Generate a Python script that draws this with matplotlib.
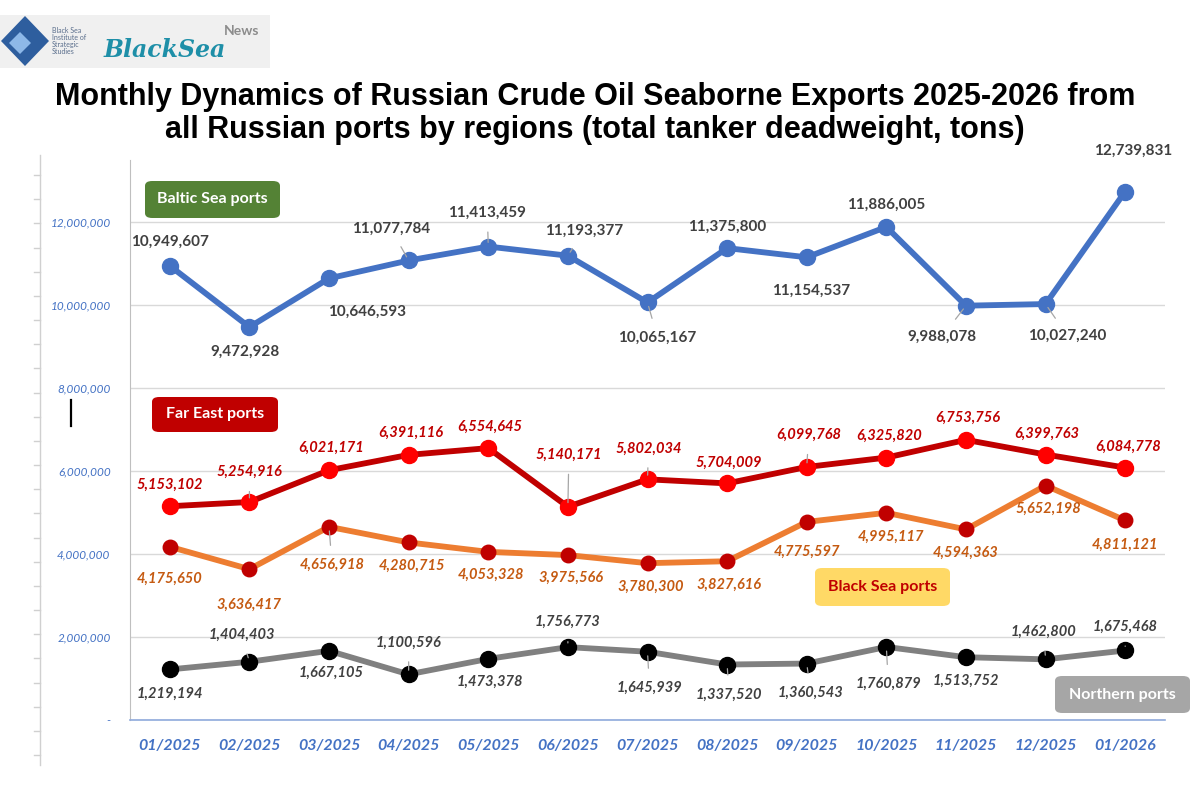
import numpy as np
import matplotlib
matplotlib.use("Agg")
import matplotlib.pyplot as plt
from matplotlib.patches import FancyBboxPatch, Rectangle, Polygon
from matplotlib.lines import Line2D
from matplotlib.ticker import FuncFormatter, MultipleLocator

months = ["01/2025", "02/2025", "03/2025", "04/2025", "05/2025", "06/2025", "07/2025",
          "08/2025", "09/2025", "10/2025", "11/2025", "12/2025", "01/2026"]

baltic = [10949607, 9472928, 10646593, 11077784, 11413459, 11193377, 10065167,
          11375800, 11154537, 11886005, 9988078, 10027240, 12739831]
far_east = [5153102, 5254916, 6021171, 6391116, 6554645, 5140171, 5802034,
            5704009, 6099768, 6325820, 6753756, 6399763, 6084778]
black_sea = [4175650, 3636417, 4656918, 4280715, 4053328, 3975566, 3780300,
             3827616, 4775597, 4995117, 4594363, 5652198, 4811121]
northern = [1219194, 1404403, 1667105, 1100596, 1473378, 1756773, 1645939,
            1337520, 1360543, 1760879, 1513752, 1462800, 1675468]

# label offsets in pixels (dx, dy) and which labels get a leader line
baltic_off = [(0, 24), (-4, -25), (38, -33), (-18, 32), (-1, 34), (16, 25), (10, -35),
              (0, 21), (4, -34), (0, 22), (-24, -31), (22, -32), (8, 41)]
baltic_lead = [3, 4, 5, 6, 10, 11]
fe_off = [(0, 21), (0, 30), (2, 22), (2, 22), (1, 21), (1, 52), (1, 31),
          (2, 21), (2, 32), (3, 22), (2, 22), (1, 21), (3, 21)]
fe_lead = [1, 5, 6, 8]
bs_off = [(0, -32), (0, -36), (3, -38), (3, -23), (3, -23), (3, -23), (3, -24),
          (2, -24), (0, -30), (5, -24), (0, -23), (3, -23), (0, -24)]
bs_lead = [2]
no_off = [(0, -24), (-8, 27), (2, -22), (0, 32), (2, -23), (0, 25), (2, -36),
          (2, -30), (4, -29), (2, -37), (0, -24), (-2, 28), (0, 24)]
no_lead = [1, 3, 5, 6, 7, 8, 9, 11, 12]

FONT = ["Lato", "DejaVu Sans"]
W, H = 1200, 800


def fx(px):
    return px / W


def fy(py):
    return 1 - py / H


fig = plt.figure(figsize=(12, 8), dpi=100)
fig.patch.set_facecolor("white")
ax = fig.add_axes([fx(130), fy(720), 1035 / W, 560 / H])

x = np.arange(len(months))
series = [
    (baltic, "#4472C4", "#4472C4", 16, "#404040", "normal", 11, baltic_off, baltic_lead),
    (far_east, "#C00000", "#FF0000", 16, "#C00000", "italic", 10.5, fe_off, fe_lead),
    (black_sea, "#ED7D31", "#C00000", 14.5, "#C55A11", "italic", 10.5, bs_off, bs_lead),
    (northern, "#808080", "#000000", 16, "#404040", "italic", 10.5, no_off, no_lead),
]

for vals, lc, mc, ms, tc, style, fs, offs, leads in series:
    ax.plot(x, vals, color=lc, lw=4.2, marker="o", markersize=ms * 0.72,
            markerfacecolor=mc, markeredgecolor=mc, zorder=3, solid_capstyle="round")
    for i, v in enumerate(vals):
        arrow = None
        if i in leads:
            arrow = dict(arrowstyle="-", color="#A6A6A6", lw=0.9, shrinkA=7, shrinkB=3)
        ax.annotate(f"{v:,}", (i, v), xytext=offs[i], textcoords="offset pixels",
                    ha="center", va="center", fontsize=fs, fontweight="bold",
                    fontstyle=style, color=tc, family=FONT, arrowprops=arrow, zorder=4)

ax.set_xlim(-0.5, 12.5)
ax.set_ylim(0, 13.5e6)
ax.yaxis.set_major_locator(MultipleLocator(2e6))
ax.yaxis.set_major_formatter(FuncFormatter(lambda v, p: f"{v:,.0f}" if v else "-"))
ax.grid(axis="y", color="#D9D9D9", lw=1)
ax.set_axisbelow(True)
ax.set_xticks(x)
ax.set_xticklabels(months)
ax.tick_params(axis="both", length=0)
ax.tick_params(axis="y", pad=14)
ax.tick_params(axis="x", pad=14)
for lab in ax.get_yticklabels():
    lab.set_fontfamily(FONT)
    lab.set_fontstyle("italic")
    lab.set_fontsize(8.5)
    lab.set_color("#4472C4")
for lab in ax.get_xticklabels():
    lab.set_fontfamily(FONT)
    lab.set_fontstyle("italic")
    lab.set_fontweight("bold")
    lab.set_fontsize(11.5)
    lab.set_color("#4472C4")
ax.spines["top"].set_visible(False)
ax.spines["right"].set_visible(False)
ax.spines["left"].set_color("#BFBFBF")
ax.spines["bottom"].set_color("#8FAADC")
ax.spines["bottom"].set_linewidth(1.2)


# region boxes
def region_box(x0, y0, w, h, fc, tc, text):
    fig.patches.append(FancyBboxPatch((fx(x0), fy(y0 + h)), w / W, h / H,
                                      boxstyle="round,pad=0,rounding_size=0.006",
                                      transform=fig.transFigure, fc=fc, ec="none", zorder=5))
    fig.text(fx(x0 + w / 2), fy(y0 + h / 2), text, ha="center", va="center",
             fontsize=11.5, fontweight="bold", color=tc, family=FONT, zorder=6)


region_box(145, 181, 135, 37, "#548235", "white", "Baltic Sea ports")
region_box(152, 397, 126, 35, "#C00000", "white", "Far East ports")
region_box(815, 568, 135, 38, "#FFD966", "#C00000", "Black Sea ports")
region_box(1055, 676, 135, 37, "#A6A6A6", "white", "Northern ports")

# title
fig.text(fx(595), fy(97), "Monthly Dynamics of Russian Crude Oil Seaborne Exports 2025-2026 from",
         ha="center", va="center", fontsize=22, fontweight="bold", family="Liberation Sans")
fig.text(fx(595), fy(130), "all Russian ports by regions (total tanker deadweight, tons)",
         ha="center", va="center", fontsize=22, fontweight="bold", family="Liberation Sans")

# outer left frame line with small ticks
fig.add_artist(Line2D([fx(40), fx(40)], [fy(155), fy(765)],
                      color="#D0D0D0", lw=1, transform=fig.transFigure))
for ty in np.linspace(175, 755, 25):
    fig.add_artist(Line2D([fx(34), fx(40)], [fy(ty), fy(ty)],
                          color="#D0D0D0", lw=1, transform=fig.transFigure))
fig.add_artist(Line2D([fx(71), fx(71)], [fy(400), fy(426)],
                      color="black", lw=1.6, transform=fig.transFigure))

# logo
fig.patches.append(Rectangle((0, fy(68)), 270 / W, 53 / H, transform=fig.transFigure,
                             fc="#F0F0F0", ec="none"))
outer = [(25, 16), (49, 41), (25, 66), (1, 41)]
inner = [(20, 32), (31, 43), (20, 54), (9, 43)]
fig.patches.append(Polygon([(fx(a), fy(b)) for a, b in outer], closed=True,
                           transform=fig.transFigure, fc="#2E5E9E", ec="none"))
fig.patches.append(Polygon([(fx(a), fy(b)) for a, b in inner], closed=True,
                           transform=fig.transFigure, fc="#8DB8E8", ec="none"))
fig.text(fx(52), fy(41), "Black Sea\nInstitute of\nStrategic\nStudies", ha="left",
         va="center", fontsize=5, color="#5A6E8C", family=FONT, linespacing=1.0)
fig.text(fx(104), fy(50), "BlackSea", ha="left", va="center", fontsize=17,
         fontstyle="italic", fontweight="bold", color="#1E8FA8", family="DejaVu Serif")
fig.text(fx(224), fy(31), "News", ha="left", va="center", fontsize=10,
         fontweight="bold", color="#8C8C8C", family=FONT)

fig.savefig("out.png", dpi=100)
